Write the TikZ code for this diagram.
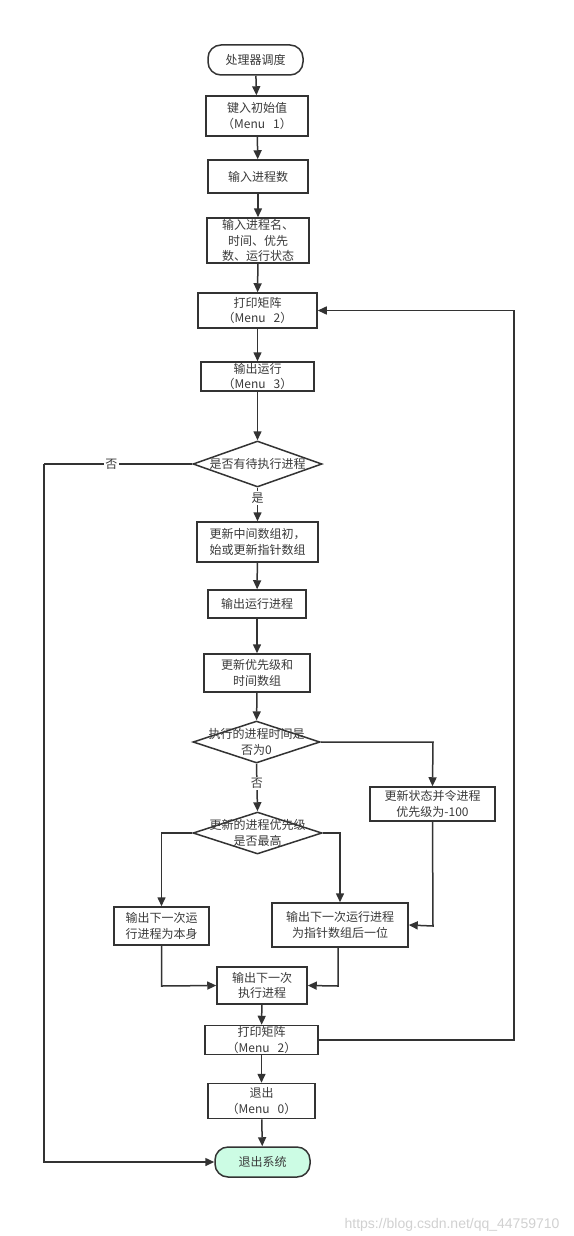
\documentclass[tikz,border=0pt]{standalone}
\usepackage{fontspec}
\setmainfont{Noto Sans CJK SC}
\newfontfamily\wmfont{Liberation Sans}
\usetikzlibrary{arrows.meta,shapes.geometric}
\definecolor{ln}{HTML}{333333}
\definecolor{txt}{HTML}{3A3A3A}
\definecolor{endfill}{HTML}{CCFCE4}
\tikzset{
  every node/.style={font=\fontsize{12}{15.5}\selectfont, text=txt},
  box/.style={draw=ln, line width=1.5pt, rectangle, align=center, inner sep=0pt, fill=white},
  term/.style={box, rounded corners=13pt},
  dia/.style={draw=ln, line width=1.5pt, diamond, inner sep=0pt, fill=white},
  lbl/.style={fill=white, inner sep=1.5pt, align=center},
  flow/.style={draw=ln, line width=1.5pt, -{Triangle[length=9pt,width=8pt]}},
  plain/.style={draw=ln, line width=1.5pt},
}
\begin{document}
\begin{tikzpicture}[x=1pt,y=-1pt]
\fill[white] (0,0) rectangle (573,1236);
\useasboundingbox (0,0) rectangle (573,1236);

% nodes
\node[term, minimum width=95pt, minimum height=30pt] (start) at (255.5,60) {处理器调度};
\node[box, minimum width=102pt, minimum height=40pt] (n1) at (257,116) {键入初始值\\（Menu\ \ \ 1）};
\node[box, minimum width=100pt, minimum height=33pt] (n2) at (258,176.5) {输入进程数};
\node[box, minimum width=102pt, minimum height=45pt] (n3) at (258,240.5) {输入进程名、\\时间、优先\\数、运行状态};
\node[box, minimum width=119pt, minimum height=35pt] (n4) at (257.5,310.5) {打印矩阵\\（Menu\ \ \ 2）};
\node[box, minimum width=113pt, minimum height=29pt] (n5) at (257.5,376.5) {输出运行\\（Menu\ \ \ 3）};
\node[dia, minimum width=129pt, minimum height=46pt] (d1) at (257.5,464) {};
\node[lbl, fill=none] at (d1) {是否有待执行进程};
\node[box, minimum width=121pt, minimum height=40pt] (n6) at (257.5,542) {更新中间数组初，\\始或更新指针数组};
\node[box, minimum width=98pt, minimum height=28pt] (n7) at (257,604) {输出运行进程};
\node[box, minimum width=106pt, minimum height=38pt] (n8) at (257,673) {更新优先级和\\时间数组};
\node[dia, minimum width=127pt, minimum height=42pt] (d2) at (256.5,742) {};
\node[lbl, fill=none] at (d2) {执行的进程时间是\\否为0};
\node[box, minimum width=125pt, minimum height=34pt] (n9) at (432.5,804) {更新状态并令进程\\优先级为-100};
\node[dia, minimum width=129pt, minimum height=42pt] (d3) at (257.5,833) {};
\node[lbl, fill=none] at (d3) {更新的进程优先级\\是否最高};
\node[box, minimum width=95pt, minimum height=38pt] (n10) at (161.5,926) {输出下一次运\\行进程为本身};
\node[box, minimum width=136pt, minimum height=44pt] (n11) at (340,925) {输出下一次运行进程\\为指针数组后一位};
\node[box, minimum width=90pt, minimum height=37pt] (n12) at (262,985.5) {输出下一次\\执行进程};
\node[box, minimum width=113pt, minimum height=29pt] (n13) at (261.5,1040) {打印矩阵\\（Menu\ \ \ 2）};
\node[box, minimum width=107pt, minimum height=35pt] (n14) at (261.5,1101) {退出\\（Menu\ \ \ 0）};
\node[term, fill=endfill, minimum width=95pt, minimum height=30pt] (end) at (262.5,1162) {退出系统};

% helper coordinates
\coordinate (lx) at (44,464);
\coordinate (ly) at (44,1162);
\coordinate (rx) at (514,1040);
\coordinate (ry) at (514,310.5);
\coordinate (d2r) at (433,742);
\coordinate (d3l) at (161.5,833);
\coordinate (d3r) at (340,833);
\coordinate (n9b) at (433,926);
\coordinate (n10b) at (161.5,986);
\coordinate (n11b) at (338,986);

% connectors
\draw[flow] (start) -- (n1);
\draw[flow] (n1) -- (n2);
\draw[flow] (n2) -- (n3);
\draw[flow] (n3) -- (n4);
\draw[flow] (n4) -- (n5);
\draw[flow] (n5) -- (d1);
\draw[flow] (d1.south) -- node[lbl, pos=0.3] {是} (n6.north);
\draw[plain] (d1.west) -- node[lbl, pos=0.545] {否} (lx);
\draw[flow] (lx) -- (ly) -- (end.west);
\draw[flow] (n6) -- (n7);
\draw[flow] (n7) -- (n8);
\draw[flow] (n8) -- (d2);
\draw[flow] (d2.east) -- (d2r) -- (n9.north);
\draw[flow] (d2.south) -- node[lbl, pos=0.42] {否} (d3.north);
\draw[flow] (d3.west) -- (d3l) -- (n10.north);
\draw[flow] (d3.east) -- (d3r) -- (n11.north);
\draw[flow] (n9.south) -- (n9b) -- (n11.east);
\draw[flow] (n10.south) -- (n10b) -- (n12.west);
\draw[flow] (n11.south -| n11b) -- (n11b) -- (n12.east);
\draw[flow] (n12) -- (n13);
\draw[flow] (n13) -- (n14);
\draw[flow] (n14) -- (end);
\draw[flow] (n13.east) -- (rx) -- (ry) -- (n4.east);

% watermark
\node[font=\wmfont\fontsize{14}{16}\selectfont, text=black!18, anchor=east] (wm) at (563,1225) {https://blog.csdn.net/qq\_44759710};
\end{tikzpicture}
\end{document}
